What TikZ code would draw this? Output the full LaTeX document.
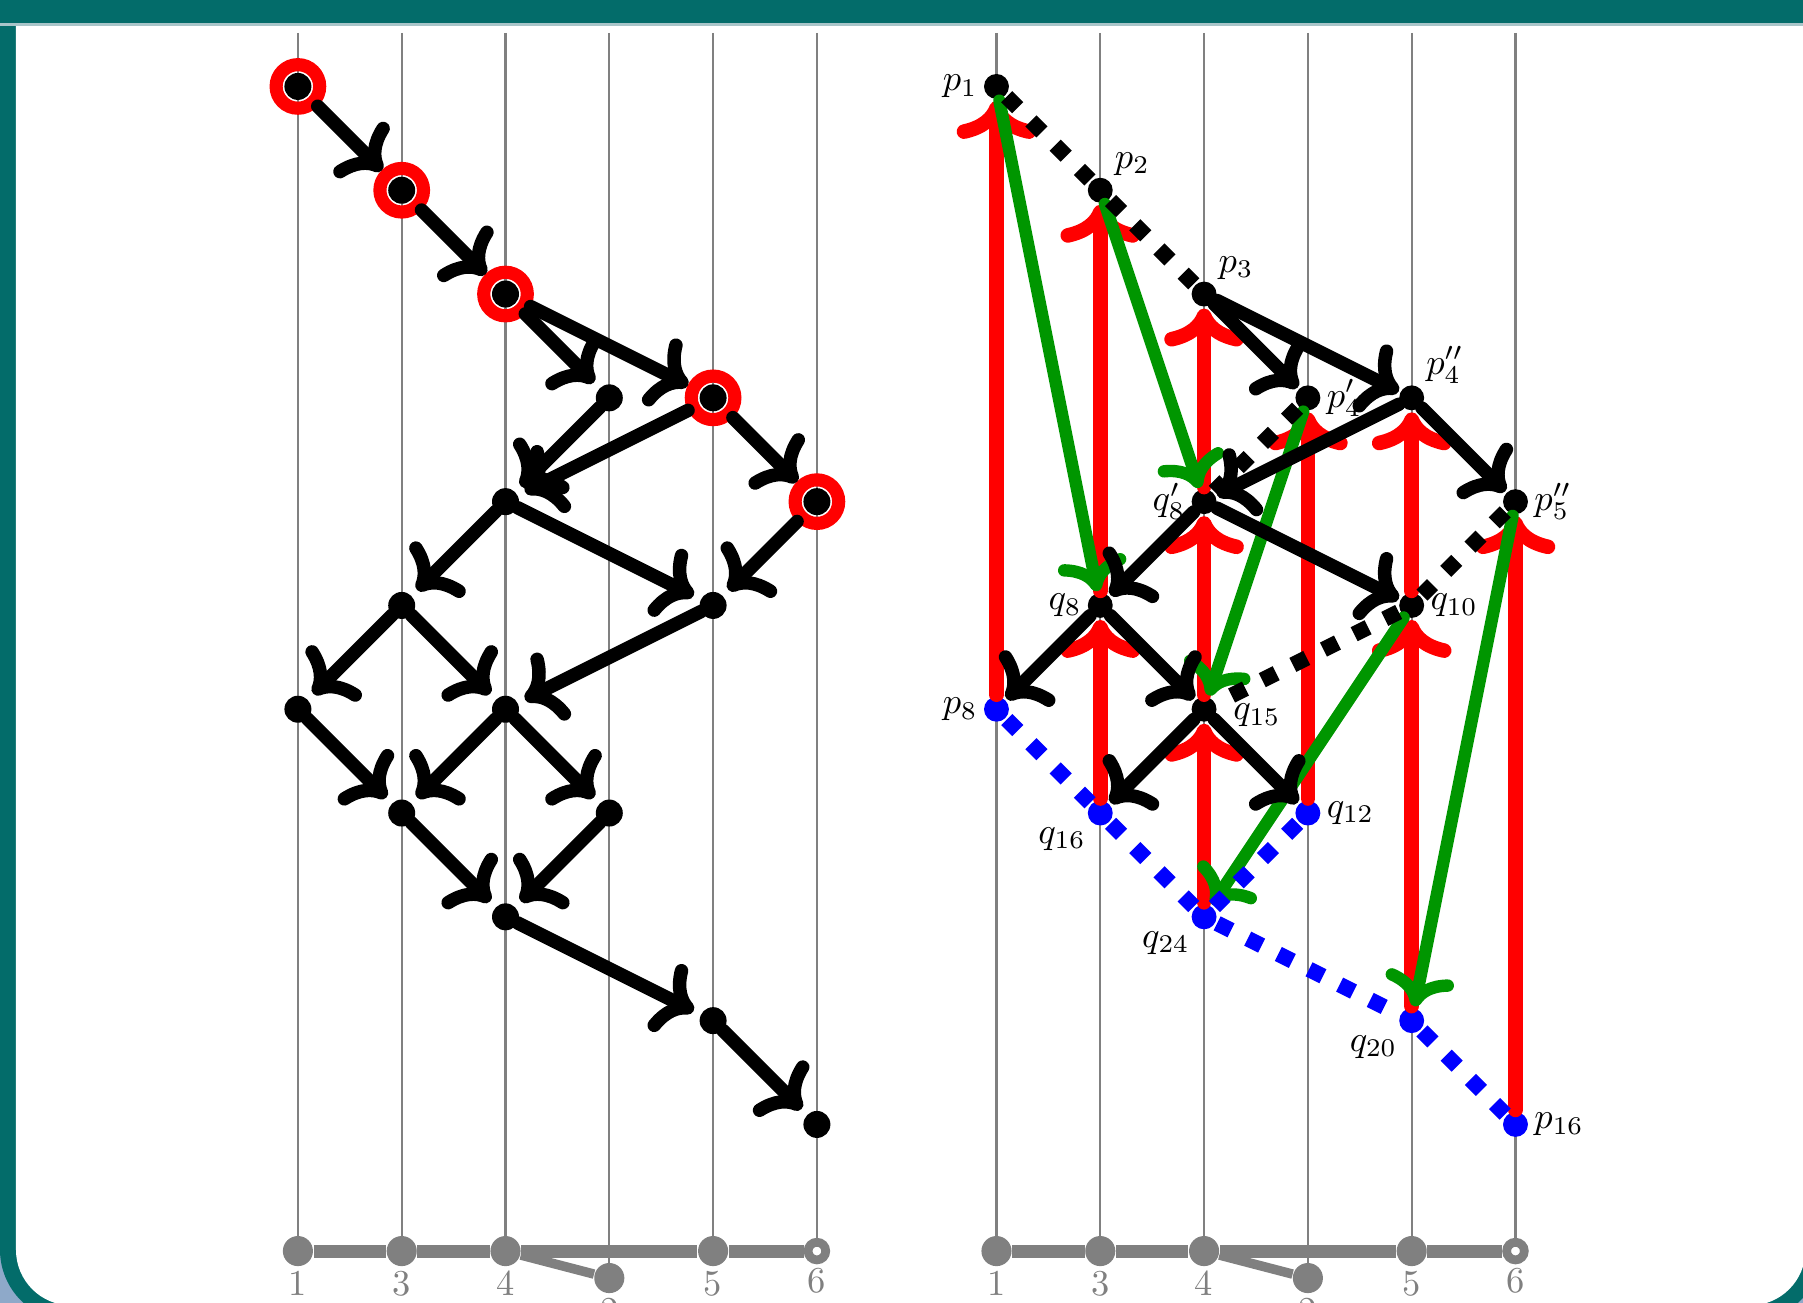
\documentclass[tikz,border=0pt]{standalone}
\usepackage{tikz}
\usetikzlibrary{arrows.meta,positioning,calc}
\definecolor{slideteal}{HTML}{036C6A}
\definecolor{slideblue}{HTML}{8EA9C9}
\definecolor{slidesep}{HTML}{A9C5C9}
\definecolor{pathgreen}{RGB}{0,150,0}

\begin{document}
\begin{tikzpicture}[
  guide/.style={gray,line width=0.6pt},
  tree/.style={gray,line width=3.6pt},
  treedot/.style={circle,fill=gray,inner sep=0pt,minimum size=0.29cm,label distance=-0.06cm},
  treeopen/.style={circle,draw=gray,fill=white,line width=2.4pt,inner sep=0pt,minimum size=0.17cm,label distance=-0.04cm},
  bigdot/.style={circle,fill=black,inner sep=0pt,minimum size=0.26cm,outer sep=0pt},
  marked/.style={bigdot,outer sep=0.14cm},
  ring/.style={red,line width=3.6pt},
  pdot/.style={circle,fill=black,inner sep=0pt,minimum size=0.24cm,outer sep=0.02cm},
  bdot/.style={pdot,fill=blue},
  edge/.style={->,line width=3.7pt,line cap=round},
  order/.style={edge,shorten >=0.08cm},
  toring/.style={edge},
  back/.style={edge,red,line width=4pt},
  jump/.style={edge,pathgreen,line width=3.4pt},
  chain/.style={line width=4.3pt,dash pattern=on 0.15cm off 0.18cm},
  every label/.style={inner sep=1pt}
]
  % slide frame
  \useasboundingbox (0,0) rectangle (17.37,12.553);
  \fill[slideblue] (0,0) rectangle (17.37,12.553);
  \fill[slideteal,rounded corners=0.69cm] (0,-0.178) rectangle (17.548,13.5);
  \fill[white,rounded corners=0.535cm] (0.154,-0.024) rectangle (17.394,13.5);
  \fill[slideteal] (0,12.322) rectangle (17.37,12.553);
  \draw[slidesep,line width=0.8pt] (0,12.317) -- (17.37,12.317);

  % columns and the tree under each diagram
  \foreach \side/\sx in {l/2.87,r/9.60} {
    \begin{scope}[shift={(\sx,11.72)},name prefix=\side]
      \foreach \c in {0,1,2,4,5} \draw[guide] (\c,0.515) -- (\c,-11.22);
      \draw[guide] (3,0.515) -- (3,-11.48);
      \node[treedot,label={[gray]below:1}] (t1) at (0,-11.22) {};
      \node[treedot,label={[gray]below:3}] (t3) at (1,-11.22) {};
      \node[treedot,label={[gray]below:4}] (t4) at (2,-11.22) {};
      \node[treedot,label={[gray]below:2}] (t2) at (3,-11.48) {};
      \node[treedot,label={[gray]below:5}] (t5) at (4,-11.22) {};
      \node[treeopen,label={[gray]below:6}] (t6) at (5,-11.22) {};
      \draw[tree] (t1) -- (t3) -- (t4) -- (t5) -- (t6);
      \draw[tree,line width=2.6pt] (t4) -- (t2);
    \end{scope}
  }

  % left: the whole order
  \begin{scope}[shift={(2.87,11.72)}]
    \node[marked] (lp1) at (0,0) {};
    \node[marked] (lp2) at (1,-1) {};
    \node[marked] (lp3) at (2,-2) {};
    \node[bigdot] (lp4a) at (3,-3) {};
    \node[marked] (lp4b) at (4,-3) {};
    \node[bigdot] (lq8a) at (2,-4) {};
    \node[marked] (lp5) at (5,-4) {};
    \node[bigdot] (lq8) at (1,-5) {};
    \node[bigdot] (lq10) at (4,-5) {};
    \node[bigdot] (lp8) at (0,-6) {};
    \node[bigdot] (lq15) at (2,-6) {};
    \node[bigdot] (lq16) at (1,-7) {};
    \node[bigdot] (lq12) at (3,-7) {};
    \node[bigdot] (lq24) at (2,-8) {};
    \node[bigdot] (lq20) at (4,-9) {};
    \node[bigdot] (lp16) at (5,-10) {};
    \foreach \n in {lp1,lp2,lp3,lp4b,lp5} \draw[ring] (\n) circle (0.21);

    \draw[toring] (lp1) -- (lp2);
    \draw[toring] (lp2) -- (lp3);
    \draw[order] (lp3) -- (lp4a);
    \draw[toring] (lp3) -- (lp4b);
    \draw[order] (lp4a) -- (lq8a);
    \draw[order] (lp4b) -- (lq8a);
    \draw[toring] (lp4b) -- (lp5);
    \draw[order] (lq8a) -- (lq8);
    \draw[order] (lq8a) -- (lq10);
    \draw[order] (lp5) -- (lq10);
    \draw[order] (lq8) -- (lp8);
    \draw[order] (lq8) -- (lq15);
    \draw[order] (lq10) -- (lq15);
    \draw[order] (lp8) -- (lq16);
    \draw[order] (lq15) -- (lq16);
    \draw[order] (lq15) -- (lq12);
    \draw[order] (lq16) -- (lq24);
    \draw[order] (lq12) -- (lq24);
    \draw[order] (lq24) -- (lq20);
    \draw[order] (lq20) -- (lp16);
  \end{scope}

  % right: the same order, split up
  \begin{scope}[shift={(9.60,11.72)}]
    \node[pdot,label=left:$p_1$] (p1) at (0,0) {};
    \node[pdot,label=above right:$p_2$] (p2) at (1,-1) {};
    \node[pdot,label=above right:$p_3$] (p3) at (2,-2) {};
    \node[pdot,label=right:$p'_4$] (p4a) at (3,-3) {};
    \node[pdot,label=above right:$p''_4$] (p4b) at (4,-3) {};
    \node[pdot,label=left:$q'_8$] (q8a) at (2,-4) {};
    \node[pdot,label=right:$p''_5$] (p5) at (5,-4) {};
    \node[pdot,label=left:$q_8$] (q8) at (1,-5) {};
    \node[pdot,label=right:$q_{10}$] (q10) at (4,-5) {};
    \node[bdot,label=left:$p_8$] (p8) at (0,-6) {};
    \node[pdot,label={[xshift=0.1cm,yshift=-0.06cm]right:$q_{15}$}] (q15) at (2,-6) {};
    \node[bdot,label=below left:$q_{16}$] (q16) at (1,-7) {};
    \node[bdot,label=right:$q_{12}$] (q12) at (3,-7) {};
    \node[bdot,label=below left:$q_{24}$] (q24) at (2,-8) {};
    \node[bdot,label=below left:$q_{20}$] (q20) at (4,-9) {};
    \node[bdot,label=right:$p_{16}$] (p16) at (5,-10) {};

    % back edges
    \draw[back] (p8) -- (p1);
    \draw[back] (q16) -- (q8);
    \draw[back] (q8) -- (p2);
    \draw[back] (q24) -- (q15);
    \draw[back] (q15) -- (q8a);
    \draw[back] (q8a) -- (p3);
    \draw[back] (q12) -- (p4a);
    \draw[back] (q20) -- (q10);
    \draw[back] (q10) -- (p4b);
    \draw[back] (p16) -- (p5);

    % jumps
    \draw[jump] (p1) -- (q8);
    \draw[jump] (p2) -- (q8a);
    \draw[jump] (p4a) -- (q15);
    \draw[jump] (q10) -- (q24);
    \draw[jump] (p5) -- (q20);

    % kept edges
    \draw[edge] (p3) -- (p4a);
    \draw[edge] (p3) -- (p4b);
    \draw[edge] (p4b) -- (q8a);
    \draw[edge] (p4b) -- (p5);
    \draw[edge] (q8a) -- (q8);
    \draw[edge] (q8a) -- (q10);
    \draw[edge] (q8) -- (p8);
    \draw[edge] (q8) -- (q15);
    \draw[edge] (q15) -- (q16);
    \draw[edge] (q15) -- (q12);

    % chains
    \draw[chain] (p1) -- (p2) -- (p3);
    \draw[chain] (p4a) -- (q8a);
    \draw[chain] (p5) -- (q10) -- (q15);
    \draw[chain,blue] (p8) -- (q16) -- (q24);
    \draw[chain,blue] (q12) -- (q24);
    \draw[chain,blue] (q24) -- (q20) -- (p16);
  \end{scope}
\end{tikzpicture}
\end{document}
